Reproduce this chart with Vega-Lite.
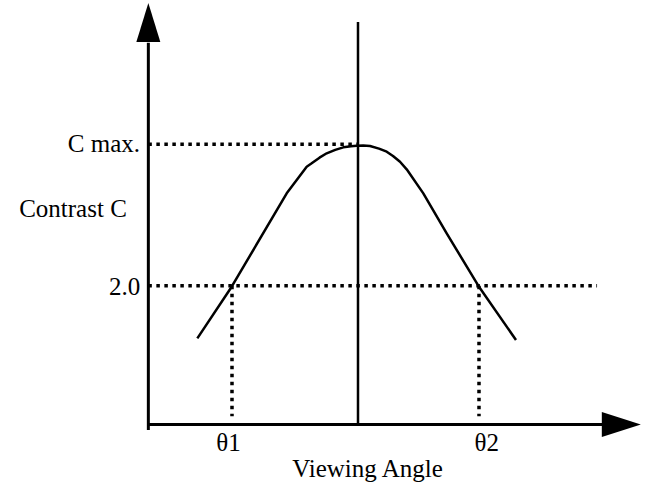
{
  "$schema": "https://vega.github.io/schema/vega-lite/v6.json",
  "width": 664,
  "height": 486,
  "padding": 0,
  "autosize": {"type": "fit", "contains": "padding"},
  "background": "white",
  "config": {"view": {"stroke": null}},
  "datasets": {
    "curve": [
      {"angle": -45.91, "contrast": 1.242},
      {"angle": -36.09, "contrast": 1.986},
      {"angle": -20.37, "contrast": 3.331},
      {"angle": -14.66, "contrast": 3.715},
      {"angle": -13.23, "contrast": 3.764},
      {"angle": -11.0, "contrast": 3.845},
      {"angle": -8.94, "contrast": 3.908},
      {"angle": -6.5, "contrast": 3.957},
      {"angle": -4.2, "contrast": 3.994},
      {"angle": -2.0, "contrast": 4.01},
      {"angle": -0.37, "contrast": 4.017},
      {"angle": 1.5, "contrast": 4.02},
      {"angle": 3.43, "contrast": 4.013},
      {"angle": 6.0, "contrast": 3.975},
      {"angle": 8.2, "contrast": 3.931},
      {"angle": 10.0, "contrast": 3.87},
      {"angle": 12.0, "contrast": 3.787},
      {"angle": 13.91, "contrast": 3.677},
      {"angle": 18.66, "contrast": 3.331},
      {"angle": 25.34, "contrast": 2.755},
      {"angle": 34.37, "contrast": 2.0},
      {"angle": 45.14, "contrast": 1.218}
    ],
    "axes": [
      {"a1": -59.9, "a2": -59.9, "c1": -0.08, "c2": 5.5},
      {"a1": -59.9, "a2": 73.2, "c1": 0, "c2": 0}
    ],
    "centre": [
      {"a1": 0, "a2": 0, "c1": 0, "c2": 5.8}
    ],
    "dotted": [
      {"a1": -59.9, "a2": 0, "c1": 4.037, "c2": 4.037},
      {"a1": -59.9, "a2": 68.3, "c1": 2.0, "c2": 2.0},
      {"a1": -36.0, "a2": -36.0, "c1": 2.0, "c2": 0.12},
      {"a1": 34.57, "a2": 34.57, "c1": 2.0, "c2": 0.12}
    ],
    "arrows": [
      {"dir": "up", "angle": -59.9, "contrast": 5.793},
      {"dir": "right", "angle": 75.24, "contrast": 0}
    ],
    "labelsRight": [
      {"text": "C max.", "angle": -62.29, "contrast": 3.931},
      {"text": "2.0", "angle": -62.2, "contrast": 1.87}
    ],
    "labelsCentre": [
      {"text": "Contrast C", "angle": -81.43, "contrast": 2.986},
      {"text": "θ1", "angle": -37.0, "contrast": -0.382},
      {"text": "θ2", "angle": 36.77, "contrast": -0.382},
      {"text": "Viewing  Angle", "angle": 2.71, "contrast": -0.753}
    ]
  },
  "layer": [
    {
      "data": {"name": "dotted"},
      "mark": {"type": "rule", "color": "black", "strokeWidth": 3.5, "strokeDash": [3.5, 4.5]},
      "encoding": {
        "x": {"field": "a1", "type": "quantitative", "scale": {"domain": [-102.286, 87.429], "nice": false, "zero": false}, "axis": null},
        "x2": {"field": "a2"},
        "y": {"field": "c1", "type": "quantitative", "scale": {"domain": [-0.886, 6.117], "nice": false, "zero": false}, "axis": null},
        "y2": {"field": "c2"}
      }
    },
    {
      "data": {"name": "axes"},
      "mark": {"type": "rule", "color": "black", "strokeWidth": 3},
      "encoding": {
        "x": {"field": "a1", "type": "quantitative"},
        "x2": {"field": "a2"},
        "y": {"field": "c1", "type": "quantitative"},
        "y2": {"field": "c2"}
      }
    },
    {
      "data": {"name": "centre"},
      "mark": {"type": "rule", "color": "black", "strokeWidth": 2.5},
      "encoding": {
        "x": {"field": "a1", "type": "quantitative"},
        "x2": {"field": "a2"},
        "y": {"field": "c1", "type": "quantitative"},
        "y2": {"field": "c2"}
      }
    },
    {
      "data": {"name": "curve"},
      "mark": {"type": "line", "color": "black", "strokeWidth": 2.5, "interpolate": "linear", "strokeJoin": "round"},
      "encoding": {
        "x": {"field": "angle", "type": "quantitative"},
        "y": {"field": "contrast", "type": "quantitative"}
      }
    },
    {
      "data": {"name": "arrows"},
      "mark": {"type": "point", "filled": true, "color": "black", "opacity": 1, "size": 1521, "strokeWidth": 0},
      "encoding": {
        "x": {"field": "angle", "type": "quantitative"},
        "y": {"field": "contrast", "type": "quantitative"},
        "shape": {
          "field": "dir",
          "type": "nominal",
          "scale": {"domain": ["up", "right"], "range": ["M0,-1L0.615,1L-0.615,1Z", "M1,0L-1,0.641L-1,-0.641Z"]},
          "legend": null
        }
      }
    },
    {
      "data": {"name": "labelsRight"},
      "mark": {"type": "text", "font": "Liberation Serif", "fontSize": 25, "align": "right", "baseline": "alphabetic", "color": "black"},
      "encoding": {
        "x": {"field": "angle", "type": "quantitative"},
        "y": {"field": "contrast", "type": "quantitative"},
        "text": {"field": "text"}
      }
    },
    {
      "data": {"name": "labelsCentre"},
      "mark": {"type": "text", "font": "Liberation Serif", "fontSize": 25, "align": "center", "baseline": "alphabetic", "color": "black"},
      "encoding": {
        "x": {"field": "angle", "type": "quantitative"},
        "y": {"field": "contrast", "type": "quantitative"},
        "text": {"field": "text"}
      }
    }
  ]
}
